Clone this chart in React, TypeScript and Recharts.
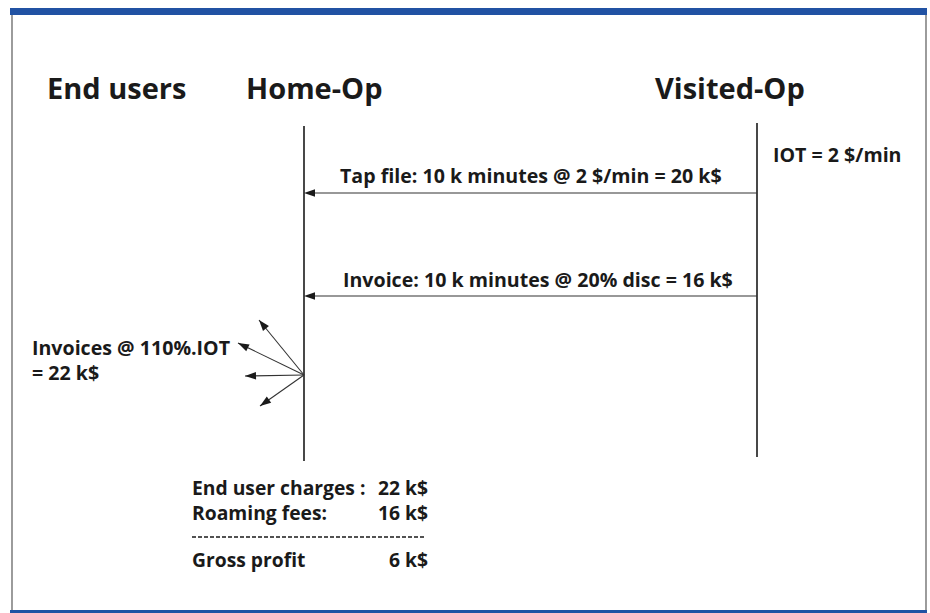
import React from 'react';
import {
  ComposedChart,
  XAxis,
  YAxis,
  Scatter,
  ReferenceLine,
  ReferenceArea,
} from 'recharts';

// diagram space = 930 x 613, y grows downward
const participants = [
  { name: 'End users', x: 47, y: 99 },
  { name: 'Home-Op', x: 246, y: 99 },
  { name: 'Visited-Op', x: 655, y: 99 },
];

const lifelines = [
  { name: 'Home-Op', x: 304, top: 126, bottom: 461 },
  { name: 'Visited-Op', x: 757, top: 123, bottom: 457 },
];

const messages = [
  { label: 'Tap file: 10 k minutes @ 2 $/min = 20 k$', from: 757, to: 304, y: 193, labelX: 340, labelY: 183 },
  { label: 'Invoice: 10 k minutes @ 20% disc = 16 k$', from: 757, to: 304, y: 296, labelX: 343, labelY: 287 },
];

const fanOrigin = { x: 304, y: 375 };
const fanTips = [
  { x: 259, y: 320 },
  { x: 238, y: 343 },
  { x: 245, y: 376 },
  { x: 260, y: 406 },
];

const notes = [
  { text: 'IOT = 2 $/min', x: 773, y: 162, anchor: 'start' },
  { text: 'Invoices @ 110%.IOT', x: 32, y: 355, anchor: 'start' },
  { text: '= 22 k$', x: 32, y: 380, anchor: 'start' },
];

const summaryLabels = ['End user charges :', 'Roaming fees:', 'Gross profit'];
const summaryValues = ['22 k$', '16 k$', '6 k$'];
const summaryRows = [495, 520, 567];
const summaryLeft = 192;
const summaryRight = 428;
const separatorY = 537;

const BLUE = '#2152a3';
const INK = '#1a1a1a';
const FONT = '"Open Sans", Lato, sans-serif';

const headerData = participants.map((p) => ({ x: p.x, y: p.y, text: p.name, anchor: 'start', size: 29 }));
const textData = [
  ...messages.map((m) => ({ x: m.labelX, y: m.labelY, text: m.label, anchor: 'start', size: 19.6 })),
  ...notes.map((n) => ({ ...n, size: 19.6 })),
  ...summaryLabels.map((t, i) => ({ x: summaryLeft, y: summaryRows[i], text: t, anchor: 'start', size: 19.3 })),
  ...summaryValues.map((t, i) => ({ x: summaryRight, y: summaryRows[i], text: t, anchor: 'end', size: 19.3 })),
];

const arrowHeads = [
  ...messages.map((m) => ({ x: m.to, y: m.y, angle: m.to < m.from ? 180 : 0 })),
  ...fanTips.map((t) => ({
    x: t.x,
    y: t.y,
    angle: (Math.atan2(t.y - fanOrigin.y, t.x - fanOrigin.x) * 180) / Math.PI,
  })),
];

const TextShape = (props: any) => {
  const { cx, cy, payload } = props;
  return (
    <text
      x={cx}
      y={cy}
      textAnchor={payload.anchor}
      fontFamily={FONT}
      fontWeight={700}
      fontSize={payload.size}
      fill={INK}
    >
      {payload.text}
    </text>
  );
};

const ArrowHead = (props: any) => {
  const { cx, cy, payload } = props;
  return (
    <polygon
      points={`${cx},${cy} ${cx - 11},${cy - 3.8} ${cx - 11},${cy + 3.8}`}
      fill={INK}
      transform={`rotate(${payload.angle} ${cx} ${cy})`}
    />
  );
};

export default function App() {
  return (
    <div style={{ position: 'absolute', left: 0, top: 0, width: 930, height: 613, background: '#fff' }}>
      <ComposedChart width={930} height={613} margin={{ top: 0, right: 0, bottom: 0, left: 0 }}>
        <XAxis type="number" dataKey="x" domain={[0, 930]} hide allowDataOverflow />
        <YAxis type="number" dataKey="y" domain={[0, 613]} reversed hide allowDataOverflow />

        {/* frame */}
        <ReferenceArea x1={10} x2={927} y1={8} y2={15} fill={BLUE} fillOpacity={1} stroke="none" />
        <ReferenceArea x1={10} x2={927} y1={610} y2={613} fill={BLUE} fillOpacity={1} stroke="none" />
        <ReferenceLine segment={[{ x: 12, y: 15 }, { x: 12, y: 610 }]} stroke="#666" strokeWidth={1.3} />
        <ReferenceLine segment={[{ x: 926, y: 15 }, { x: 926, y: 610 }]} stroke="#666" strokeWidth={1.3} />

        {lifelines.map((l) => (
          <ReferenceLine
            key={l.name}
            segment={[{ x: l.x, y: l.top }, { x: l.x, y: l.bottom }]}
            stroke={INK}
            strokeWidth={1.6}
          />
        ))}

        {messages.map((m) => (
          <ReferenceLine
            key={m.label}
            segment={[{ x: m.from, y: m.y }, { x: m.to + 4, y: m.y }]}
            stroke="#333"
            strokeWidth={1.2}
          />
        ))}

        {fanTips.map((t, i) => (
          <ReferenceLine
            key={i}
            segment={[fanOrigin, t]}
            stroke="#333"
            strokeWidth={1.1}
          />
        ))}

        <ReferenceLine
          segment={[{ x: summaryLeft, y: separatorY }, { x: summaryRight - 3, y: separatorY }]}
          stroke={INK}
          strokeWidth={1.6}
          strokeDasharray="4 2"
        />

        <Scatter data={arrowHeads} shape={ArrowHead} isAnimationActive={false} />
        <Scatter data={headerData} shape={TextShape} isAnimationActive={false} />
        <Scatter data={textData} shape={TextShape} isAnimationActive={false} />
      </ComposedChart>
    </div>
  );
}
